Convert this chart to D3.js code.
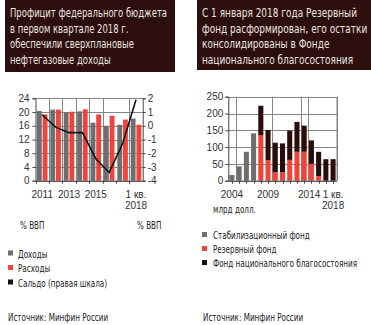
<!DOCTYPE html>
<html lang="ru">
<head>
<meta charset="utf-8"/>
<title>Бюджет и фонды</title>
<script src="https://d3js.org/d3.v7.min.js"></script>
<style>
body { margin: 0; background: #fff; }
svg { display: block; font-family: "DejaVu Sans Condensed", "DejaVu Sans", sans-serif; font-stretch: condensed; }
.head { fill: #2c0f0c; }
.headText { fill: #ece4e0; font-size: 12.5px; }
.tick text { fill: #333; font-size: 10px; font-family: "Liberation Sans", sans-serif; font-stretch: normal; }
.grid line { stroke: #858585; stroke-width: 1; }
.axisLine { stroke: #444; stroke-width: 1; }
.leg { fill: #222; font-size: 10.5px; }
.src { fill: #222; font-size: 10.5px; }
</style>
</head>
<body>
<div id="chart"></div>
<script>
// ---- left chart data: budget, % of GDP
var budgetYears = ["2011", "2012", "2013", "2014", "2015", "2016", "2017", "2018Q1"];
var budgetTicks = {"2011": "2011", "2013": "2013", "2015": "2015", "2018Q1": "1 кв."};
var revenue = [20.3, 20.7, 19.9, 20.2, 16.9, 16.0, 16.3, 18.1];
var expenditure = [19.3, 20.7, 20.1, 20.8, 19.3, 18.9, 17.8, 16.3];
var balance = [0.8, -0.1, -0.5, -0.5, -2.4, -3.4, -1.3, 1.9];
var leftTicks = [0, 4, 8, 12, 16, 20, 24];
var rightTicks = [-4, -3, -2, -1, 0, 1, 2];

// ---- right chart data: funds, bln USD
var fundYears = ["2004", "2005", "2006", "2007", "2008", "2009", "2010", "2011",
                 "2012", "2013", "2014", "2015", "2016", "2017", "2018Q1"];
var fundTicks = {"2004": "2004", "2009": "2009", "2014": "2014", "2018Q1": "1 кв."};
var stabFund = [17, 43, 86, 141, 0, 0, 0, 0, 0, 0, 0, 0, 0, 0, 0];
var reserveFund = [0, 0, 0, 0, 136, 61, 25, 25, 62, 86, 86, 50, 14, 0, 0];
var nwFund = [0, 0, 0, 0, 87, 90, 88, 86, 87, 89, 78, 70, 72, 64, 64];
var fundAxisTicks = [0, 50, 100, 150, 200, 250];

var colGray = "#6e6e6e", colRed = "#f0443b", colDark = "#2a0c0a", colBlack = "#111";

var w = 371, h = 325;
var svg = d3.select("#chart").append("svg").attr("width", w).attr("height", h);

// squeeze a text horizontally (the original uses a narrow font)
function squeeze(sel, k) {
   sel.each(function() {
      var len = this.getComputedTextLength();
      d3.select(this).attr("textLength", len * k).attr("lengthAdjust", "spacingAndGlyphs");
   });
}

// header boxes
function header(x, width, height, lines, target) {
   svg.append("rect").attr("class", "head")
      .attr("x", x).attr("y", 0).attr("width", width).attr("height", height);
   var t = svg.selectAll(null).data(lines).enter().append("text").attr("class", "headText")
      .attr("x", x + 5).attr("y", function(d, i){ return 17 + i * 15.5; })
      .text(function(d){ return d; });
   var k = target / t.nodes()[0].getComputedTextLength();
   squeeze(t, k);
}
header(5, 170, 72, ["Профицит федерального бюджета", "в первом квартале 2018 г.",
                    "обеспечили сверхплановые", "нефтегазовые доходы"], 157);
header(197, 174, 70, ["С 1 января 2018 года Резервный", "фонд расформирован, его остатки",
                      "консолидированы в Фонде", "национального благосостояния"], 155);

// ================= left chart
var L = {x0: 35.5, x1: 142.7, y0: 180.7, y1: 98.3};
var xL = d3.scaleBand().domain(budgetYears).range([L.x0, L.x1]);
var xSub = d3.scaleBand().domain(["rev", "exp"]).range([0, xL.step()])
             .paddingInner(0.15).paddingOuter(0.25);
var yL = d3.scaleLinear().domain([0, 24]).range([L.y0, L.y1]);
var yR = d3.scaleLinear().domain([-4, 2]).range([L.y0, L.y1]);

// grid
svg.append("g").attr("class", "grid")
   .selectAll("line").data(leftTicks).join("line")
   .attr("x1", L.x0).attr("x2", L.x1)
   .attr("y1", function(d){ return Math.round(yL(d)) + 0.5; }).attr("y2", function(d){ return Math.round(yL(d)) + 0.5; });
svg.append("g").attr("class", "grid")
   .selectAll("line").data(budgetYears.slice(1).filter(function(d){ return d !== "2017"; })).join("line")
   .attr("x1", function(d){ return Math.round(xL(d)) + 0.5; })
   .attr("x2", function(d){ return Math.round(xL(d)) + 0.5; })
   .attr("y1", L.y1).attr("y2", L.y0);

// bars
var gL = svg.append("g");
gL.selectAll(".rev").data(revenue).join("rect")
   .attr("fill", colGray)
   .attr("x", function(d, i){ return xL(budgetYears[i]) + xSub("rev"); })
   .attr("width", xSub.bandwidth())
   .attr("y", function(d){ return yL(d); })
   .attr("height", function(d){ return yL(0) - yL(d); });
gL.selectAll(".exp").data(expenditure).join("rect")
   .attr("fill", colRed)
   .attr("x", function(d, i){ return xL(budgetYears[i]) + xSub("exp"); })
   .attr("width", xSub.bandwidth())
   .attr("y", function(d){ return yL(d); })
   .attr("height", function(d){ return yL(0) - yL(d); });

// balance line (right scale)
var line = d3.line()
   .x(function(d, i){ return xL(budgetYears[i]) + xL.bandwidth() / 2; })
   .y(function(d){ return yR(d); });
svg.append("path").datum(balance)
   .attr("fill", "none").attr("stroke", colBlack).attr("stroke-width", 1.6)
   .attr("d", line);

// axes
var axL = d3.axisLeft(yL).tickValues(leftTicks).tickSize(3).tickPadding(3);
svg.append("g").attr("transform", "translate(" + L.x0 + ",0)").call(axL)
   .call(function(g){ g.select(".domain").attr("stroke", "#444"); g.selectAll(".tick line").attr("stroke", "#444"); });
var axR = d3.axisRight(yR).tickValues(rightTicks).tickSize(3).tickPadding(2)
   .tickFormat(function(d){ return d < 0 ? "-" + Math.abs(d) : d; });
svg.append("g").attr("transform", "translate(" + L.x1 + ",0)").call(axR)
   .call(function(g){ g.select(".domain").attr("stroke", "#444"); g.selectAll(".tick line").attr("stroke", "#444"); });
var axB = d3.axisBottom(xL).tickSize(0).tickPadding(10)
   .tickValues(Object.keys(budgetTicks))
   .tickFormat(function(d){ return budgetTicks[d]; });
var gB = svg.append("g").attr("transform", "translate(0," + L.y0 + ")").call(axB);
gB.select(".domain").attr("stroke", "#444");
gB.selectAll(".tick text").filter(function(d){ return d === "2018Q1"; })
   .each(function(){
      d3.select(this).append("tspan").attr("x", 0).attr("dy", "1.1em").text("2018");
   });
// small ticks at group boundaries
svg.append("g").selectAll("line").data(budgetYears).join("line")
   .attr("stroke", "#444")
   .attr("x1", function(d){ return Math.round(xL(d)) + 0.5; })
   .attr("x2", function(d){ return Math.round(xL(d)) + 0.5; })
   .attr("y1", L.y0).attr("y2", L.y0 + 3);

// legend scale factor from the reference width of the longest left item
var probe = svg.append("text").attr("class", "leg").text("Сальдо (правая шкала)");
var kLeg = 89 / probe.node().getComputedTextLength();
probe.remove();

var units = svg.append("g");
units.append("text").attr("class", "leg").attr("x", 20).attr("y", 229).text("% ВВП");
units.append("text").attr("class", "leg").attr("x", 137).attr("y", 229).text("% ВВП");
squeeze(units.selectAll("text"), kLeg);

// legend left
var legL = [["Доходы", colGray], ["Расходы", colRed], ["Сальдо (правая шкала)", colBlack]];
legL.forEach(function(d, i) {
   svg.append("rect").attr("x", 8).attr("y", 250.5 + i * 14.5).attr("width", 5).attr("height", 5).attr("fill", d[1]);
   svg.append("text").attr("class", "leg").attr("x", 18).attr("y", 257.5 + i * 14.5).text(d[0])
      .call(squeeze, kLeg);
});
svg.append("text").attr("class", "src").attr("x", 8).attr("y", 321).text("Источник:  Минфин России")
   .call(squeeze, kLeg);

// ================= right chart
var R = {x0: 228.3, x1: 336.7, y0: 180.7, y1: 96.7};
var xF = d3.scaleBand().domain(fundYears).range([R.x0, R.x1]).paddingInner(0.3).paddingOuter(0.15);
var yF = d3.scaleLinear().domain([0, 250]).range([R.y0, R.y1]);

svg.append("g").attr("class", "grid")
   .selectAll("line").data(fundAxisTicks).join("line")
   .attr("x1", R.x0).attr("x2", R.x1)
   .attr("y1", function(d){ return Math.round(yF(d)) + 0.5; }).attr("y2", function(d){ return Math.round(yF(d)) + 0.5; });
// vertical grid next to labelled years
var vgrid = [["2004", 1], ["2009", 1], ["2014", 0], ["2014", 1]];
function vgx(d) {
   return Math.round(xF(d[0]) + (d[1] ? xF.bandwidth() + xF.step() * 0.15 : -xF.step() * 0.15)) + 0.5;
}
svg.append("g").attr("class", "grid")
   .selectAll("line").data(vgrid).join("line")
   .attr("x1", vgx).attr("x2", vgx)
   .attr("y1", R.y1).attr("y2", R.y0);
svg.append("line").attr("class", "axisLine")
   .attr("x1", R.x1 + 0.5).attr("x2", R.x1 + 0.5).attr("y1", R.y1).attr("y2", R.y0);

var stackData = fundYears.map(function(y, i){
   return {year: y, stab: stabFund[i], reserve: reserveFund[i], nwf: nwFund[i]};
});
var series = d3.stack().keys(["stab", "reserve", "nwf"])(stackData);
var fundColors = {stab: colGray, reserve: colRed, nwf: colDark};
svg.append("g").selectAll("g").data(series).join("g")
   .attr("fill", function(s){ return fundColors[s.key]; })
   .selectAll("rect").data(function(s){ return s; }).join("rect")
   .attr("x", function(d){ return xF(d.data.year); })
   .attr("width", xF.bandwidth())
   .attr("y", function(d){ return yF(d[1]); })
   .attr("height", function(d){ return yF(d[0]) - yF(d[1]); });

var axF = d3.axisLeft(yF).tickValues(fundAxisTicks).tickSize(3).tickPadding(2);
svg.append("g").attr("transform", "translate(" + R.x0 + ",0)").call(axF)
   .call(function(g){ g.select(".domain").attr("stroke", "#444"); g.selectAll(".tick line").attr("stroke", "#444"); });
var axFB = d3.axisBottom(xF).tickSize(0).tickPadding(10)
   .tickValues(Object.keys(fundTicks))
   .tickFormat(function(d){ return fundTicks[d]; });
var gFB = svg.append("g").attr("transform", "translate(0," + R.y0 + ")").call(axFB);
gFB.select(".domain").attr("stroke", "#444");
gFB.selectAll(".tick").filter(function(d){ return d === "2014"; }).select("text").attr("dx", 5);
gFB.selectAll(".tick text").filter(function(d){ return d === "2018Q1"; })
   .each(function(){
      d3.select(this).append("tspan").attr("x", 0).attr("dy", "1.1em").text("2018");
   });
svg.append("g").selectAll("line").data(fundYears).join("line")
   .attr("stroke", "#444")
   .attr("x1", function(d){ return Math.round(xF(d) + xF.bandwidth() / 2) + 0.5; })
   .attr("x2", function(d){ return Math.round(xF(d) + xF.bandwidth() / 2) + 0.5; })
   .attr("y1", R.y0).attr("y2", R.y0 + 3);
svg.append("text").attr("class", "leg").attr("x", 213).attr("y", 213).text("млрд долл.")
   .call(squeeze, kLeg);

// legend right
var legR = [["Стабилизационный фонд", colGray], ["Резервный фонд", colRed], ["Фонд национального благосостояния", colBlack]];
legR.forEach(function(d, i) {
   svg.append("rect").attr("x", 202).attr("y", 232 + i * 14).attr("width", 5).attr("height", 5).attr("fill", d[1]);
   svg.append("text").attr("class", "leg").attr("x", 213).attr("y", 239 + i * 14).text(d[0])
      .call(squeeze, kLeg);
});
svg.append("text").attr("class", "src").attr("x", 203).attr("y", 321).text("Источник: Минфин России")
   .call(squeeze, kLeg);
</script>
</body>
</html>
